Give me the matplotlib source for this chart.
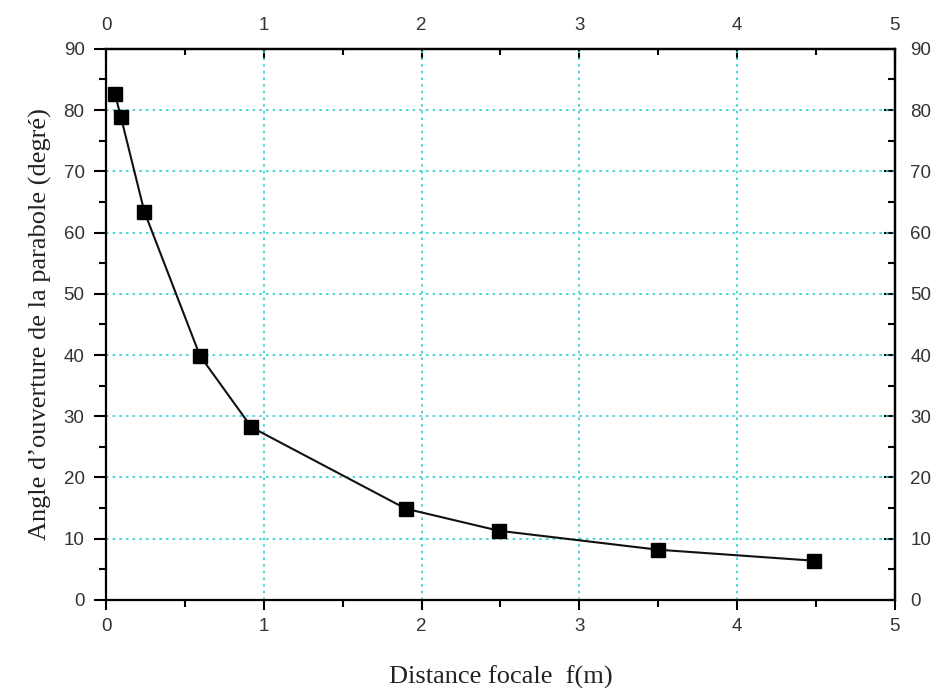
import matplotlib
matplotlib.use("Agg")
import matplotlib.pyplot as plt
from matplotlib.ticker import MultipleLocator

# Data
focal_m = [0.057, 0.095, 0.243, 0.595, 0.922, 1.90, 2.49, 3.50, 4.49]
angle_deg = [82.6, 78.8, 63.4, 39.9, 28.2, 14.9, 11.3, 8.2, 6.4]

x_ticks = [0, 1, 2, 3, 4, 5]
y_ticks = [0, 10, 20, 30, 40, 50, 60, 70, 80, 90]
x_label = "Distance focale  f(m)"
y_label = "Angle d\u2019ouverture de la parabole (degré)"

TICK_FS = 13.5
LAB_FS = 19
TICK_COL = "#333333"

fig = plt.figure(figsize=(9.4, 6.88), dpi=100)
ax = fig.add_axes([0.1128, 0.128, 0.8392, 0.8010])

ax.plot(focal_m, angle_deg, color="#111111", lw=1.5, zorder=3)
ax.plot(focal_m, angle_deg, ls="none", marker="s", ms=9.5, color="black", zorder=4)

ax.set_xlim(0, 5)
ax.set_ylim(0, 90)
ax.set_xticks(x_ticks)
ax.set_yticks(y_ticks)
ax.xaxis.set_minor_locator(MultipleLocator(0.5))
ax.yaxis.set_minor_locator(MultipleLocator(5))

ax.grid(True, which="major", color="#2ACFCF", ls=(0, (1.5, 2.5)), lw=1.2, zorder=1)

ax.tick_params(axis="x", which="major", direction="out", length=7.5, width=1.5,
               labelsize=TICK_FS, labelcolor=TICK_COL, pad=5.5)
ax.tick_params(axis="y", which="major", direction="out", length=8.5, width=1.5,
               labelsize=TICK_FS, labelcolor=TICK_COL, pad=7)
ax.tick_params(axis="both", which="minor", direction="out", length=5, width=1.5)

secx = ax.secondary_xaxis("top")
secx.set_xticks(x_ticks)
secx.xaxis.set_minor_locator(MultipleLocator(0.5))
secx.tick_params(which="major", direction="in", length=7, width=1.5, labelsize=TICK_FS,
                 labelcolor=TICK_COL, pad=11)
secx.tick_params(which="minor", direction="in", length=4, width=1.5)
secy = ax.secondary_yaxis("right")
secy.set_yticks(y_ticks)
secy.yaxis.set_minor_locator(MultipleLocator(5))
secy.tick_params(which="major", direction="in", length=8, width=1.5, labelsize=TICK_FS,
                 labelcolor=TICK_COL, pad=11)
secy.tick_params(which="minor", direction="in", length=5, width=1.5)

for lab in (ax.get_xticklabels() + ax.get_yticklabels()
            + secx.get_xticklabels() + secy.get_yticklabels()):
    lab.set_fontfamily("Liberation Sans")

for s in ax.spines.values():
    s.set_linewidth(1.6)
for s in list(secx.spines.values()) + list(secy.spines.values()):
    s.set_linewidth(1.6)

ax.set_xlabel(x_label, family="Liberation Serif", size=LAB_FS, color="#222222", labelpad=22)
ax.set_ylabel(y_label, family="Liberation Serif", size=LAB_FS, color="#222222", labelpad=8)

fig.savefig("out.png", dpi=100, facecolor="white")
